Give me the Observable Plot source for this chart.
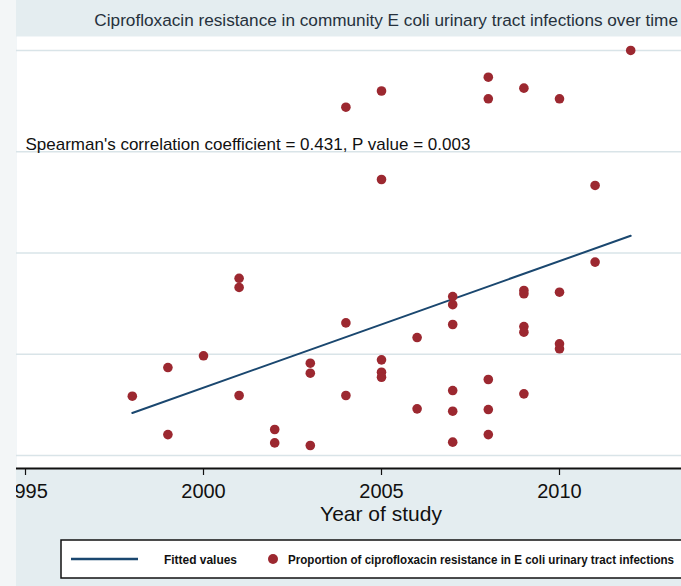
<!DOCTYPE html>
<html><head><meta charset="utf-8">
<script src="https://cdn.jsdelivr.net/npm/d3@7"></script>
<script src="https://cdn.jsdelivr.net/npm/@observablehq/plot@0.6"></script>
<style>
html,body{margin:0;padding:0;background:#f3f6f7;}
#wrap{position:relative;width:681px;height:586px;overflow:hidden;font-family:"Liberation Sans",Arial,Helvetica,sans-serif;}
#title{position:absolute;left:16px;top:0;width:665px;height:36px;background:#e4edf0;}
#title span{position:absolute;right:3px;top:10px;font-size:17.2px;line-height:20px;color:#26313c;white-space:nowrap;}
#chart{position:absolute;left:16px;top:36px;width:665px;height:494px;background:#e4edf0;overflow:hidden;}
#legend{position:absolute;left:16px;top:530px;width:665px;height:56px;background:#e4edf0;overflow:hidden;}
</style>
</head><body>
<div id="wrap">
  <div id="title"><span></span></div>
  <div id="chart"></div>
  <div id="legend"></div>
</div>
<script>
// ---- data ----
const titleText = "Ciprofloxacin resistance in community E coli urinary tract infections over time";
const xLabel = "Year of study";
const annotation = "Spearman's correlation coefficient = 0.431, P value = 0.003";
const annotationYear = 1995;
const annotationValue = 0.307;

const years = [
  1998,
  1999, 1999,
  2000,
  2001, 2001, 2001,
  2002, 2002,
  2003, 2003, 2003,
  2004, 2004, 2004,
  2005, 2005, 2005, 2005, 2005,
  2006, 2006,
  2007, 2007, 2007, 2007, 2007, 2007,
  2008, 2008, 2008, 2008, 2008,
  2009, 2009, 2009, 2009, 2009, 2009,
  2010, 2010, 2010, 2010,
  2011, 2011,
  2012
];
const proportions = [
  0.0586,
  0.0869, 0.0207,
  0.0985,
  0.175, 0.166, 0.0593,
  0.0257, 0.0125,
  0.0912, 0.0813, 0.0099,
  0.344, 0.131, 0.0593,
  0.360, 0.2726, 0.0945, 0.0823, 0.0773,
  0.1165, 0.0461,
  0.157, 0.149, 0.1294, 0.0642, 0.0438, 0.0132,
  0.3736, 0.3523, 0.0751, 0.0454, 0.0207,
  0.3628, 0.163, 0.1597, 0.1274, 0.1218, 0.0609,
  0.3523, 0.1613, 0.1103, 0.1054,
  0.2667, 0.191,
  0.400
];
const fitYears = [1998, 2012];
const fitValues = [0.042, 0.217];
const xTicks = [1995, 2000, 2005, 2010];
const yGrid = [0, 0.1, 0.2, 0.3, 0.4];
const xDomain = [1994.747, 2013.427];
const yDomain = [-0.0128, 0.4138];
const legendLabels = ["Fitted values", "Proportion of ciprofloxacin resistance in E coli urinary tract infections"];

// ---- build ----
const NAVY = "#1a476f", RED = "#9c2830";
const points = years.map((y, i) => ({year: y, value: proportions[i]}));
const fit = fitYears.map((y, i) => ({year: y, value: fitValues[i]}));

document.querySelector("#title span").textContent = titleText;

const plot = Plot.plot({
  width: 665, height: 494,
  marginLeft: 0, marginRight: 0, marginTop: 0, marginBottom: 62,
  style: {background: "transparent", fontFamily: "'Liberation Sans', Arial, sans-serif", overflow: "hidden"},
  x: {domain: xDomain, axis: null},
  y: {domain: yDomain, axis: null},
  marks: [
    Plot.frame({fill: "white", stroke: null}),
    Plot.gridY(yGrid, {stroke: "#d9e4e8", strokeOpacity: 1, strokeWidth: 1.5}),
    Plot.line(fit, {x: "year", y: "value", stroke: NAVY, strokeWidth: 2}),
    Plot.dot(points, {x: "year", y: "value", r: 4.8, fill: RED, stroke: null}),
    Plot.text([{t: annotation, year: annotationYear, value: annotationValue}],
      {x: "year", y: "value", text: "t", textAnchor: "start", lineAnchor: "middle", fontSize: 17, fill: "#111"}),
    Plot.ruleY([yDomain[0]], {stroke: "#111", strokeWidth: 2}),
    Plot.axisX(xTicks, {tickSize: 7, tickPadding: 8, fontSize: 20, color: "#111", strokeWidth: 1.2, label: null, tickFormat: d => String(d)}),
    Plot.text([xLabel], {frameAnchor: "bottom", dx: 32, dy: 46, lineAnchor: "middle", fontSize: 21, fill: "#111"})
  ]
});
document.getElementById("chart").appendChild(plot);

// ---- legend ----
const ox = 16;
const lg = d3.select("#legend").append("svg").attr("width", 665).attr("height", 56)
  .style("display", "block").style("overflow", "hidden")
  .style("font-family", "'Liberation Sans', Arial, sans-serif");
lg.append("rect").attr("x", 61 - ox).attr("y", 10).attr("width", 700).attr("height", 38)
  .attr("fill", "white").attr("stroke", "#111").attr("stroke-width", 1.5);
lg.append("line").attr("x1", 71 - ox).attr("x2", 138 - ox).attr("y1", 29).attr("y2", 29)
  .attr("stroke", NAVY).attr("stroke-width", 2.5);
lg.append("text").attr("x", 164 - ox).attr("y", 29).attr("dy", "0.35em")
  .attr("font-size", 13).attr("font-weight", "bold").attr("fill", "#111")
  .attr("textLength", 73).attr("lengthAdjust", "spacingAndGlyphs").text(legendLabels[0]);
lg.append("circle").attr("cx", 273 - ox).attr("cy", 29).attr("r", 5).attr("fill", RED);
lg.append("text").attr("x", 288 - ox).attr("y", 29).attr("dy", "0.35em")
  .attr("font-size", 13).attr("font-weight", "bold").attr("fill", "#111")
  .attr("textLength", 386).attr("lengthAdjust", "spacingAndGlyphs").text(legendLabels[1]);
</script>
</body></html>
